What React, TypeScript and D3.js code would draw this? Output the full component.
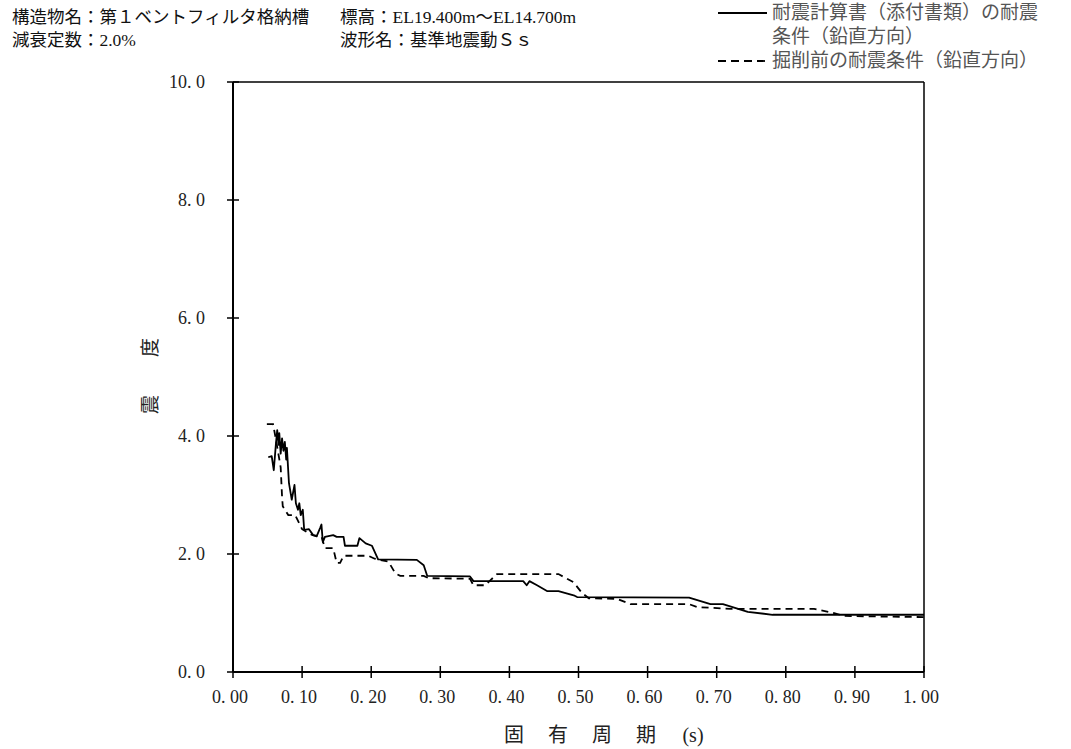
import React from "react";
import * as d3 from "d3";

// 固有周期 (s) と 震度 — 実線：耐震計算書（添付書類）
const solidPeriod = [
  0.051, 0.056, 0.059, 0.062, 0.064, 0.066, 0.067, 0.069, 0.071, 0.073, 0.075, 0.077, 0.078,
  0.081, 0.085, 0.089, 0.091, 0.094, 0.096, 0.098, 0.101, 0.103, 0.11, 0.116, 0.121, 0.126,
  0.128, 0.13, 0.133, 0.145, 0.15, 0.16, 0.162, 0.18, 0.183, 0.192, 0.201, 0.21, 0.266, 0.276,
  0.281, 0.343, 0.348, 0.42, 0.425, 0.429, 0.44, 0.455, 0.471, 0.493, 0.498, 0.66, 0.691,
  0.709, 0.745, 0.781, 1.0,
];
const solidValue = [
  3.64, 3.66, 3.42, 3.85, 4.1, 3.85, 4.05, 3.7, 3.96, 3.75, 3.9, 3.6, 3.8,
  3.2, 2.92, 3.17, 2.86, 2.75, 2.86, 2.66, 2.75, 2.41, 2.42, 2.32, 2.3, 2.44,
  2.5, 2.2, 2.29, 2.32, 2.29, 2.29, 2.14, 2.14, 2.27, 2.18, 2.14, 1.91, 1.9, 1.81,
  1.63, 1.62, 1.54, 1.54, 1.47, 1.54, 1.47, 1.37, 1.37, 1.3, 1.27, 1.26, 1.15,
  1.15, 1.02, 0.97, 0.97,
];

// 破線：掘削前
const dashPeriod = [
  0.049, 0.058, 0.062, 0.069, 0.071, 0.072, 0.08, 0.09, 0.1, 0.115, 0.128, 0.133, 0.145,
  0.15, 0.155, 0.16, 0.196, 0.205, 0.225, 0.235, 0.242, 0.276, 0.283, 0.343, 0.348, 0.365,
  0.372, 0.382, 0.471, 0.493, 0.505, 0.515, 0.556, 0.575, 0.66, 0.672, 0.72, 0.841, 0.87,
  0.884, 1.0,
];
const dashValue = [
  4.2, 4.2, 3.95, 3.47, 2.97, 2.81, 2.66, 2.66, 2.42, 2.32, 2.3, 2.1, 2.1,
  1.85, 1.85, 1.97, 1.97, 1.92, 1.87, 1.67, 1.63, 1.63, 1.59, 1.58, 1.47, 1.47,
  1.55, 1.66, 1.66, 1.52, 1.34, 1.25, 1.24, 1.15, 1.15, 1.1, 1.07, 1.07, 1.0,
  0.95, 0.93,
];

const xTicks = [0, 0.1, 0.2, 0.3, 0.4, 0.5, 0.6, 0.7, 0.8, 0.9, 1.0];
const yTicks = [0, 2, 4, 6, 8, 10];

const titleLines = ["構造物名：第１ベントフィルタ格納槽", "減衰定数：2.0%"];
const titleLines2 = ["標高：EL19.400m～EL14.700m", "波形名：基準地震動Ｓｓ"];
const legendSolid = ["耐震計算書（添付書類）の耐震", "条件（鉛直方向）"];
const legendDash = "掘削前の耐震条件（鉛直方向）";
const xTitle = ["固", "有", "周", "期", "(s)"];
const yTitle = "震　　度";

const FONT = '"Liberation Serif", "DejaVu Serif", "Noto Sans CJK JP", serif';

export default function App() {
  const W = 1071;
  const H = 749;
  const m = { left: 233, right: 924, top: 82, bottom: 672 };

  const x = d3.scaleLinear().domain([0, 1]).range([m.left, m.right]);
  const y = d3.scaleLinear().domain([0, 10]).range([m.bottom, m.top]);

  const lineGen = d3
    .line<[number, number]>()
    .x((d) => x(d[0]))
    .y((d) => y(d[1]));

  const solidPath = lineGen(solidPeriod.map((p, i) => [p, solidValue[i]]));
  const dashPath = lineGen(dashPeriod.map((p, i) => [p, dashValue[i]]));

  const fx = (v: number) => d3.format(".2f")(v).replace(".", ". ");
  const fy = (v: number) => d3.format(".1f")(v).replace(".", ". ");

  return (
    <svg
      width={W}
      height={H}
      style={{ position: "absolute", left: 0, top: 0, background: "#fff" }}
      fontFamily={FONT}
    >
      {/* 見出し */}
      {titleLines.map((t, i) => (
        <text key={"t" + i} x={12} y={23 + i * 23} fontSize={17.5} fill="#111">
          {t}
        </text>
      ))}
      {titleLines2.map((t, i) => (
        <text key={"u" + i} x={340} y={23 + i * 23} fontSize={17.5} fill="#111">
          {t}
        </text>
      ))}

      {/* 凡例 */}
      <line x1={718} x2={767} y1={13} y2={13} stroke="#000" strokeWidth={1.8} />
      {legendSolid.map((t, i) => (
        <text key={"l" + i} x={772} y={19 + i * 24} fontSize={19} fill="#555">
          {t}
        </text>
      ))}
      <line x1={718} x2={767} y1={61} y2={61} stroke="#000" strokeWidth={1.8} strokeDasharray="8,5" />
      <text x={772} y={67} fontSize={19} fill="#555">
        {legendDash}
      </text>

      {/* 枠 */}
      <line x1={m.left} x2={m.right} y1={m.top} y2={m.top} stroke="#000" strokeWidth={1.3} />
      <line x1={m.right} x2={m.right} y1={m.top} y2={m.bottom} stroke="#000" strokeWidth={1.5} />

      {/* データ */}
      <path d={solidPath ?? ""} fill="none" stroke="#000" strokeWidth={1.8} strokeLinejoin="round" />
      <path d={dashPath ?? ""} fill="none" stroke="#000" strokeWidth={1.8} strokeDasharray="7,5" />

      {/* 軸 */}
      <line x1={m.left} x2={m.left} y1={m.top} y2={m.bottom} stroke="#000" strokeWidth={2} />
      <line x1={m.left} x2={m.right} y1={m.bottom} y2={m.bottom} stroke="#000" strokeWidth={2} />
      {xTicks.map((t) => (
        <g key={"x" + t}>
          <line x1={x(t)} x2={x(t)} y1={m.bottom - 6} y2={m.bottom + 6} stroke="#000" strokeWidth={1.5} />
          <text x={x(t) - 3} y={703} textAnchor="middle" fontSize={18} fill="#222">
            {fx(t)}
          </text>
        </g>
      ))}
      {yTicks.map((t) => (
        <g key={"y" + t}>
          <line x1={m.left - 6} x2={m.left + 6} y1={y(t)} y2={y(t)} stroke="#000" strokeWidth={1.5} />
          <text x={205} y={y(t) + 6} textAnchor="end" fontSize={18} fill="#222">
            {fy(t)}
          </text>
        </g>
      ))}

      {/* 軸タイトル */}
      {xTitle.map((t, i) => (
        <text key={"xt" + i} x={514 + i * 44 + (i === 4 ? 3 : 0)} y={742} textAnchor="middle" fontSize={20} fill="#222">
          {t}
        </text>
      ))}
      <text
        transform="translate(157,376) rotate(-90)"
        textAnchor="middle"
        fontSize={19}
        fill="#222"
      >
        {yTitle}
      </text>
    </svg>
  );
}
